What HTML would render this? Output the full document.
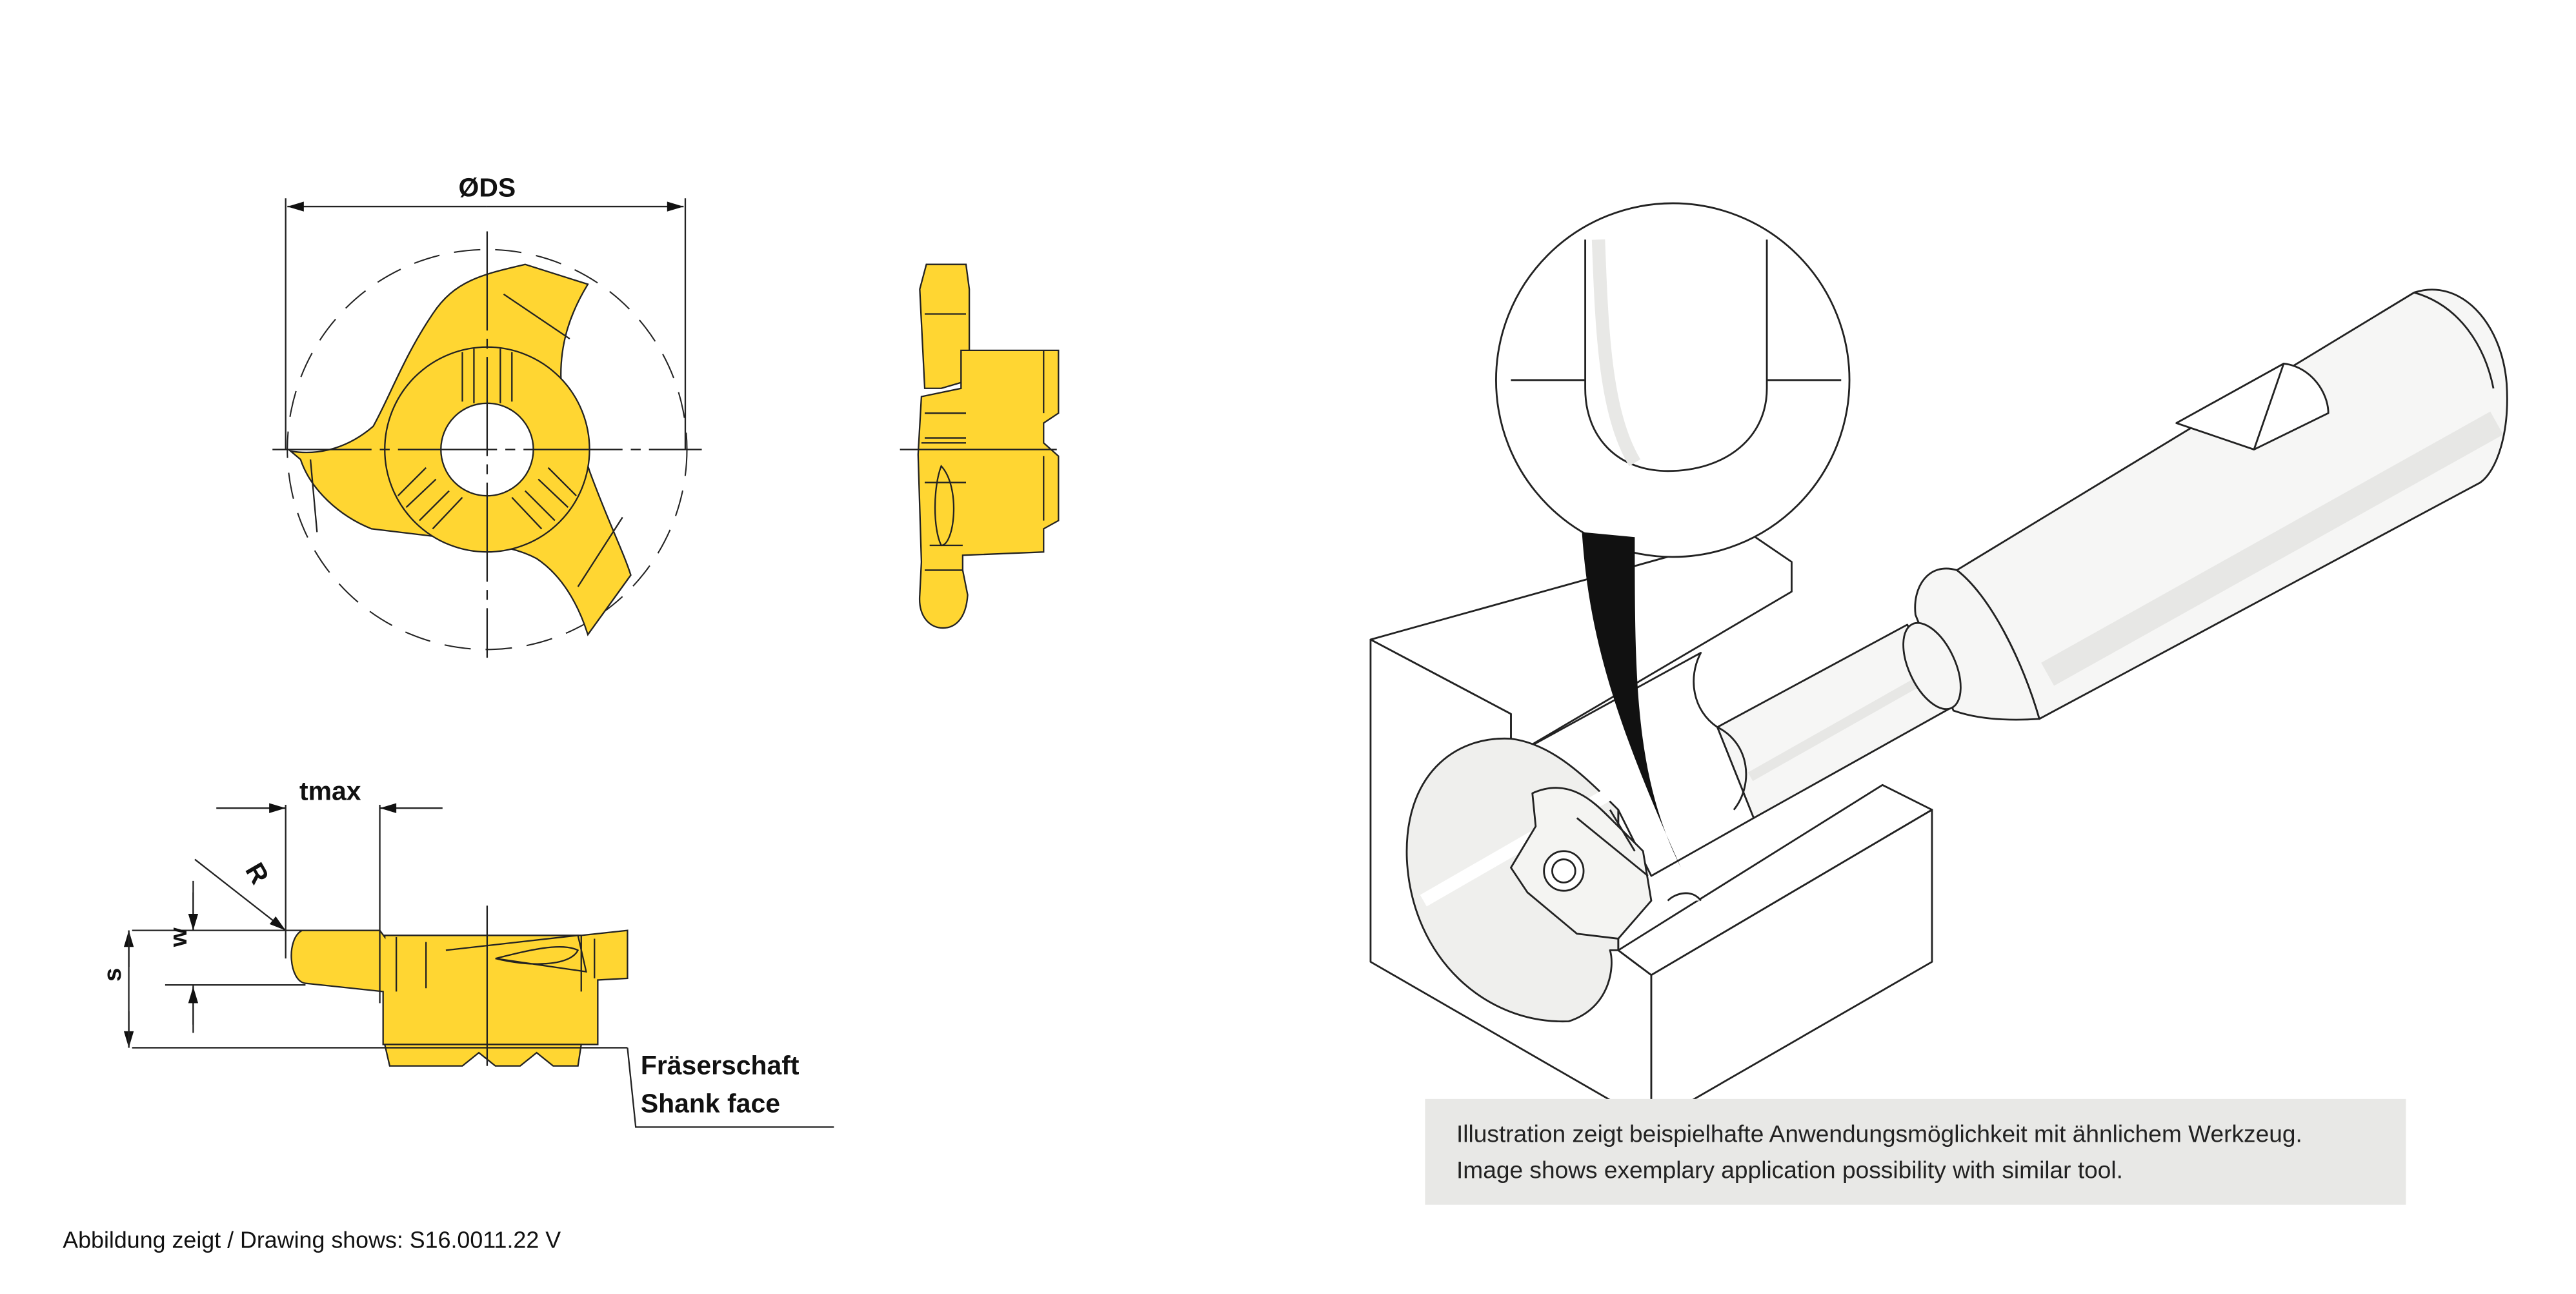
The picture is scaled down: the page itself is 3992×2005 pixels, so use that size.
<!DOCTYPE html>
<html><head><meta charset="utf-8"><style>
html,body{margin:0;padding:0;background:#fff;}
svg{display:block;}
text{font-family:"Liberation Sans",sans-serif;}
</style></head><body>
<svg width="3992" height="2005" viewBox="0 0 1560 783" preserveAspectRatio="none" xmlns="http://www.w3.org/2000/svg">
<defs>
<marker id="ar" viewBox="0 0 10 6" refX="10" refY="3" markerWidth="20" markerHeight="6" markerUnits="userSpaceOnUse" orient="auto"><path d="M0,0L10,3L0,6z" fill="#111"/></marker>
</defs>
<g stroke="#222" stroke-width="0.9" fill="none">
<circle cx="295" cy="272" r="121" stroke-dasharray="16,9" stroke-width="0.8"/>
<path d="M176,273 C195,276 212,270 226,258 C236,240 245,215 262,190 C275,170 292,166 318,160 L356,172 C345,190 338,210 340,235 C343,255 352,268 357,285 C368,315 378,335 382,348 L356,384 C350,365 340,348 325,338 C310,330 295,330 275,326 L225,320 C205,312 188,296 182,278 Z" fill="#FFD632"/>
<circle cx="295" cy="272" r="62" fill="#FFD632"/>
<circle cx="295" cy="272" r="28" fill="#fff"/>
<path d="M280,213V243M287,211V244M303,211V244M310,213V243M258,283L241,300M264,290L246,307M332,283L349,300M326,290L344,307M272,297L254,315M280,301L262,320M318,297L336,315M310,301L328,320M305,178L345,205M188,278L192,322M377,313L350,355"/>
<path d="M173,120V272M415,120V272"/>
<path d="M295,125H174" marker-end="url(#ar)"/><path d="M295,125H414" marker-end="url(#ar)"/>
<path d="M165,272H425M295,140V398" stroke-dasharray="60,5,6,5"/>
<path d="M561,160H585L587,175V230L570,235H560L557,175Z" fill="#FFD632"/>
<path d="M582,212H641V250L632,256V268L641,276V315L632,320V334L583,336V345L586,360 C585,375 578,380 571,380 C563,380 556,373 557,360 L558,340L556,275L558,240L582,235Z" fill="#FFD632"/>
<path d="M632,212V250M632,276V315M560,190H585M560,250H585M560,265H585M560,292H585M560,345H583M563,330H583M558,268H585"/>
<path d="M570,282 C565,295 565,320 570,330 C578,330 582,295 570,282Z"/>
<path d="M545,272H640"/>
<path d="M183,563H230L233,567V566H352L380,563V592L362,593V632L232,632V600L185,595 C175,594 173,568 183,563Z" fill="#FFD632"/>
<path d="M233,632H352L350,645H335L325,637L315,645H300L290,637L280,645H236Z" fill="#FFD632"/>
<path d="M270,575L350,566L355,588L300,580M300,580C320,575 340,570 350,575C345,585 320,585 300,580M240,567V600M258,570V598M352,566V600M360,568V592"/>
<path d="M295,548V645"/>
<path d="M230,487V607M173,487V580"/>
<path d="M131,489H173" marker-end="url(#ar)"/><path d="M268,489H230" marker-end="url(#ar)"/>
<path d="M118,520L173,563" marker-end="url(#ar)"/>
<path d="M80,563H230M80,634H380M100,596H185M117,533V563M117,625V596"/>
<path d="M117,540V563" marker-end="url(#ar)"/><path d="M117,620V597" marker-end="url(#ar)"/>
<path d="M78,585V563" marker-end="url(#ar)"/><path d="M78,612V634" marker-end="url(#ar)"/>
<path d="M78,563V634"/>
<path d="M380,634L385,682H505"/>
</g>
<g fill="#111">
<text x="295" y="119" font-size="16" text-anchor="middle" font-weight="bold">ØDS</text>
<text x="200" y="484" font-size="16" text-anchor="middle" font-weight="bold">tmax</text>
<text x="150" y="533" font-size="16" font-weight="bold" transform="rotate(60 155 528)">R</text>
<text x="112" y="584" font-size="15" font-weight="bold" transform="rotate(-90 107 578)">w</text>
<text x="72" y="603" font-size="15" font-weight="bold" transform="rotate(-90 68 598)">s</text>
<text x="388" y="650" font-size="16" font-weight="bold">Fräserschaft</text>
<text x="388" y="673" font-size="16" font-weight="bold">Shank face</text>
<text x="38" y="755" font-size="14">Abbildung zeigt / Drawing shows: S16.0011.22 V</text>
</g>
<g stroke="#222" stroke-width="1.1" fill="#fff" stroke-linejoin="round">
<!-- big shaft cylinder -->
<path d="M1185,345 L1462,177 C1490,168 1515,195 1518,232 C1520,262 1512,285 1502,292 L1235,435 C1225,400 1205,360 1185,345 Z" fill="#f6f6f5"/>
<path d="M1240,408 L1512,256" stroke="#e7e7e5" stroke-width="16" fill="none"/>
<path d="M1462,177 C1490,185 1505,210 1510,235" fill="none"/>
<path d="M1318,256L1383,220C1400,222 1410,238 1410,250L1365,272Z" fill="#fff"/>
<path d="M1383,220L1365,272" fill="none"/>
<!-- collar / cone front -->
<path d="M1185,345 C1168,340 1158,355 1160,372 L1183,430 C1200,436 1220,436 1235,435 C1225,400 1205,360 1185,345 Z" fill="#f6f6f5"/>
<!-- neck shaft -->
<path d="M1040,440L1155,378L1182,428L1062,495Z" fill="#f6f6f5"/>
<path d="M1060,470L1175,405" stroke="#e7e7e5" stroke-width="6" fill="none"/>
<ellipse cx="1170" cy="403" rx="14" ry="28" transform="rotate(-25 1170 403)" fill="#f6f6f5"/>
<!-- block -->
<path d="M830,387L1060,323L1085,340V358L915,458V432Z" fill="#fff"/>
<path d="M830,387L915,432V458L980,490L980,575L1000,590V680L830,582Z" fill="#fff"/>
<path d="M915,458L1030,395C1022,410 1025,430 1040,440L1062,495L1000,530L980,490Z" fill="#fff"/>
<path d="M1040,440C1060,450 1062,475 1050,490" fill="none"/>
<path d="M980,575L1140,475L1170,490L1000,590Z" fill="#fff"/>
<path d="M1000,590L1170,490V582L1000,680Z" fill="#fff"/>
<path d="M915,447C880,445 850,470 852,520C855,580 900,620 950,618C975,610 978,585 975,575L980,575L980,490C960,470 940,450 915,447Z" fill="#efefed"/>
<path d="M862,545L975,480" stroke="#fff" stroke-width="8"/>
<path d="M928,480C950,470 965,485 975,495L995,515L1000,545L980,568L955,565L925,540L915,525L930,500Z" fill="#f4f4f2"/>
<path d="M955,495L998,530M975,490L990,515" fill="none"/>
<circle cx="947" cy="527" r="12" fill="#fff"/>
<circle cx="947" cy="527" r="7"/>
<path d="M1010,545C1015,540 1025,538 1030,545"/>
<circle cx="1013" cy="230" r="107" fill="#fff"/>
<path d="M960,145V235C960,265 980,285 1010,285C1045,285 1070,265 1070,235V145M915,230H960M1070,230H1115" fill="none"/>
<path d="M968,145C970,200 972,250 990,280" stroke="#e8e8e6" stroke-width="8" fill="none"/>
</g>
<path d="M958,322C962,380 975,430 1018,525C990,470 990,410 990,325Z" fill="#111"/>
<rect x="863" y="665" width="594" height="64" fill="#e8e8e6"/>
<g fill="#222" font-size="14.5">
<text x="882" y="691">Illustration zeigt beispielhafte Anwendungsmöglichkeit mit ähnlichem Werkzeug.</text>
<text x="882" y="713">Image shows exemplary application possibility with similar tool.</text>
</g>
</svg>
</body></html>
